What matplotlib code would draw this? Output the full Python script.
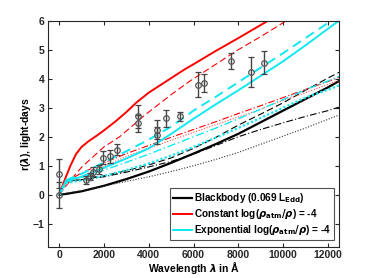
import matplotlib
matplotlib.use("Agg")
import matplotlib.pyplot as plt

# wavelength grid (Angstrom) for model curves
wl = [0, 300, 1000, 2000, 3000, 4000, 5000, 6000, 7000, 8000, 9000, 10000, 11000, 12000, 12500]

# Blackbody (black)
bb_solid   = [0, 0.03, 0.12, 0.31, 0.54, 0.80, 1.10, 1.42, 1.75, 2.10, 2.50, 2.90, 3.30, 3.70, 3.92]
bb_dashed  = [0, 0.47, 0.52, 0.65, 0.83, 1.03, 1.27, 1.60, 1.98, 2.40, 2.78, 3.17, 3.60, 4.02, 4.22]
bb_dashdot = [0, 0.47, 0.52, 0.62, 0.78, 0.96, 1.15, 1.40, 1.70, 2.00, 2.25, 2.48, 2.70, 2.90, 3.02]
bb_dotted  = [0, 0.05, 0.14, 0.30, 0.46, 0.62, 0.80, 1.00, 1.22, 1.46, 1.74, 2.02, 2.30, 2.60, 2.75]

# Constant atmosphere (red)
wl_rs = [0, 250, 500, 750, 1000, 1300, 1700, 2000, 2500, 3000, 3450, 4000, 5000, 5600, 6000, 7000, 8000, 9330, 10000]
con_solid = [0, 0.52, 1.00, 1.40, 1.65, 1.84, 2.05, 2.22, 2.52, 2.85, 3.18, 3.52, 4.02, 4.32, 4.50, 4.96, 5.40, 6.00, 6.30]
wl_rd = [0, 500, 1000, 1500, 2000, 2700, 3830, 5000, 5800, 7000, 8000, 9000, 10150, 11000]
con_dashed = [0, 0.50, 0.95, 1.30, 1.65, 2.00, 2.75, 3.45, 3.90, 4.50, 5.00, 5.45, 6.00, 6.40]
con_dashdot = [0, 0.45, 0.75, 1.10, 1.42, 1.70, 1.98, 2.25, 2.52, 2.80, 3.07, 3.35, 3.63, 3.90, 4.05]
con_dotted  = [0, 0.35, 0.62, 0.98, 1.32, 1.60, 1.88, 2.15, 2.42, 2.68, 2.95, 3.25, 3.52, 3.80, 3.94]

# Exponential atmosphere (cyan)
exp_solid   = [0, 0.48, 0.62, 0.93, 1.25, 1.60, 2.10, 2.62, 3.12, 3.60, 4.10, 4.60, 5.15, 5.72, 6.00]
exp_dashed  = [0, 0.50, 0.72, 1.12, 1.50, 1.90, 2.35, 2.90, 3.38, 3.88, 4.38, 4.88, 5.40, 5.92, 6.20]
exp_dashdot = [0, 0.45, 0.60, 0.85, 1.12, 1.40, 1.70, 2.00, 2.30, 2.62, 2.95, 3.28, 3.62, 3.92, 4.08]
exp_dotted  = [0, 0.40, 0.50, 0.65, 0.85, 1.08, 1.35, 1.65, 1.97, 2.30, 2.65, 3.00, 3.35, 3.62, 3.77]

# observed lags
obs_wl  = [0, 0, 1190, 1370, 1500, 1770, 1950, 2260, 2600, 3530, 3530, 4380, 4380, 4790, 5390, 6180, 6460, 7670, 8590, 9150]
obs_lag = [0.73, 0.0, 0.51, 0.62, 0.80, 0.88, 1.28, 1.32, 1.56, 2.70, 2.46, 2.25, 2.05, 2.63, 2.71, 3.79, 3.85, 4.62, 4.22, 4.55]
obs_err = [0.50, 0.45, 0.14, 0.12, 0.16, 0.15, 0.22, 0.22, 0.20, 0.40, 0.30, 0.32, 0.30, 0.30, 0.16, 0.43, 0.30, 0.27, 0.52, 0.40]

xticks = [0, 2000, 4000, 6000, 8000, 10000, 12000]
yticks = [-1, 0, 1, 2, 3, 4, 5, 6]
legend_labels = [r"Blackbody (0.069 L$_{\mathbf{Edd}}$)",
                 r"Constant log($\rho_{\mathbf{atm}}/\rho$) = -4",
                 r"Exponential log($\rho_{\mathbf{atm}}/\rho$) = -4"]

plt.rcParams['font.family'] = ['Liberation Sans', 'DejaVu Sans']
plt.rcParams['font.weight'] = 'bold'
plt.rcParams['mathtext.fontset'] = 'dejavusans'

fig = plt.figure(figsize=(3.75, 2.78), dpi=100)
ax = fig.add_axes([0.128, 0.1115, 0.776, 0.814])

red = '#ff0000'
cyan = '#10e8f2'

l_bb, = ax.plot(wl, bb_solid, color='black', lw=1.6)
ax.plot(wl, bb_dashed, color='black', lw=0.8, ls=(0, (6, 3)))
ax.plot(wl, bb_dashdot, color='black', lw=0.8, ls=(0, (6, 2, 1, 2)))
ax.plot(wl, bb_dotted, color='#333333', lw=0.8, ls=(0, (1, 1.5)))

l_con, = ax.plot(wl_rs, con_solid, color=red, lw=1.4)
ax.plot(wl_rd, con_dashed, color=red, lw=0.8, ls=(0, (6, 3)))
ax.plot(wl, con_dashdot, color=red, lw=0.8, ls=(0, (6, 2, 1, 2)))
ax.plot(wl, con_dotted, color='#ff5050', lw=0.8, ls=(0, (1, 1.5)))

l_exp, = ax.plot(wl, exp_solid, color=cyan, lw=1.4)
ax.plot(wl, exp_dashed, color=cyan, lw=1.4, ls=(0, (5, 3)))
ax.plot(wl, exp_dashdot, color=cyan, lw=1.0, ls=(0, (6, 2, 1, 2)))
ax.plot(wl, exp_dotted, color=cyan, lw=1.6, ls=(0, (1, 1)))

ax.errorbar(obs_wl, obs_lag, yerr=obs_err, fmt='o', mfc='none', mec='#555555',
            ms=4, mew=0.9, ecolor='#444444', elinewidth=1.0, capsize=2.5, capthick=0.9)

ax.set_xlim(-500, 12500)
ax.set_ylim(-1.8, 6)
ax.set_xticks(xticks)
ax.set_yticks(yticks)
ax.tick_params(direction='in', top=True, right=True, length=3, width=0.8,
               labelsize=7.5, colors='#262626', pad=2.5)
for lab in ax.get_xticklabels() + ax.get_yticklabels():
    lab.set_fontweight('bold')
for s in ax.spines.values():
    s.set_color('#262626')
    s.set_linewidth(0.8)

ax.set_xlabel(r"Wavelength $\lambda$ in Å", fontsize=7.5, fontweight='bold', labelpad=0)
ax.set_ylabel(r"r($\lambda$), light-days", fontsize=7.5, fontweight='bold', labelpad=0)

leg = ax.legend([l_bb, l_con, l_exp], legend_labels, loc='lower right',
                bbox_to_anchor=(0.982, 0.03), fontsize=7.2, frameon=True, fancybox=False,
                handlelength=1.9, handletextpad=0.2, borderpad=0.3, labelspacing=0.2,
                borderaxespad=0)
leg.get_frame().set_edgecolor('#262626')
leg.get_frame().set_linewidth(0.8)
for t in leg.get_texts():
    t.set_fontweight('bold')

fig.savefig('out.png', dpi=100)
